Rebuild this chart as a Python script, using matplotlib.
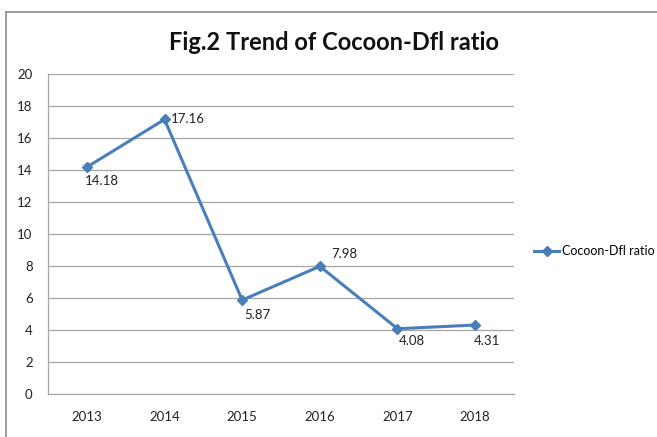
import matplotlib
matplotlib.use("Agg")
import matplotlib.pyplot as plt
from matplotlib.lines import Line2D

years = ["2013", "2014", "2015", "2016", "2017", "2018"]
ratio = [14.18, 17.16, 5.87, 7.98, 4.08, 4.31]
label_offsets = [(-1.4, -10), (4.3, 0), (1.4, -11), (8, 8.6), (0.7, -8.6), (-0.7, -11.5)]

plt.rcParams['font.family'] = ['Lato', 'DejaVu Sans']

W, H = 657, 437
fig = plt.figure(figsize=(W/100, H/100), dpi=100)
ax = fig.add_axes([48/W, (H-394)/H, (514-48)/W, (394-74)/H])

x = list(range(len(years)))
color = "#4A7EBB"
ax.plot(x, ratio, color=color, lw=2.2, marker="D", ms=5, label="Cocoon-Dfl ratio")
for xi, v, off in zip(x, ratio, label_offsets):
    ax.annotate(f"{v:.2f}", (xi, v), xytext=off, textcoords="offset points",
                ha="left", va="center", fontsize=9.5, color="#222222")

ax.set_xlim(-0.5, len(years)-0.5)
ax.set_ylim(0, 20)
ax.set_yticks(range(0, 21, 2))
ax.set_xticks(x)
ax.set_xticklabels(years)
ax.tick_params(length=0, labelsize=9.5, colors="#222222")
ax.tick_params(axis='x', pad=12)
ax.tick_params(axis='y', pad=11)
ax.grid(axis='y', color="#A6A6A6", lw=0.9)
ax.set_axisbelow(True)
for s in ["top", "right"]:
    ax.spines[s].set_visible(False)
for s in ["left", "bottom"]:
    ax.spines[s].set_color("#A6A6A6")
    ax.spines[s].set_linewidth(0.9)

fig.text(334/W, 1-42/H, "Fig.2 Trend of Cocoon-Dfl ratio", ha="center", va="center",
         fontsize=17, fontweight="bold", color="#111111")

leg_handle = Line2D([], [], color=color, lw=2.2, marker="D", ms=5)
fig.legend([leg_handle], ["Cocoon-Dfl ratio"], loc="center left",
           bbox_to_anchor=(534/W, 1-251/H), frameon=False, fontsize=9,
           handlelength=2.0, handletextpad=0.2, borderpad=0, borderaxespad=0)

# outer chart border
fig.add_artist(Line2D([6/W, 1], [1-12/H, 1-12/H], color="#8C8C8C", lw=1.2, transform=fig.transFigure))
fig.add_artist(Line2D([6/W, 6/W], [0, 1-12/H], color="#8C8C8C", lw=1.2, transform=fig.transFigure))

fig.savefig("out.png", dpi=100, facecolor="white")
